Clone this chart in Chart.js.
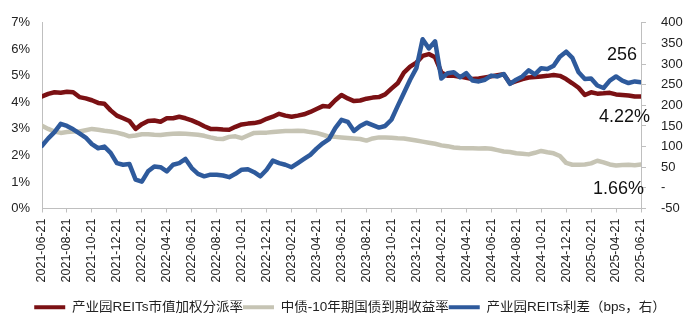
<!DOCTYPE html>
<html>
<head>
<meta charset="utf-8">
<script src="https://cdn.jsdelivr.net/npm/chart.js@4.4.1/dist/chart.umd.min.js"></script>
<style>
  html, body { margin: 0; padding: 0; background: #ffffff; }
  #wrap { width: 700px; height: 327px; position: relative; }
</style>
</head>
<body>
<div id="wrap"><canvas id="c" width="700" height="327"></canvas></div>
<script>
// X tick labels (every 2 months); data points are half-monthly from 2021-06-21 to 2025-06-21
const tickLabels = ['2021-06-21','2021-08-21','2021-10-21','2021-12-21','2022-02-21','2022-04-21','2022-06-21','2022-08-21','2022-10-21','2022-12-21','2023-02-21','2023-04-21','2023-06-21','2023-08-21','2023-10-21','2023-12-21','2024-02-21','2024-04-21','2024-06-21','2024-08-21','2024-10-21','2024-12-21','2025-02-21','2025-04-21','2025-06-21'];

const seriesNames = ['产业园REITs市值加权分派率', '中债-10年期国债到期收益率', '产业园REITs利差（bps，右）'];

// 产业园REITs市值加权分派率 (%)
const reitYield = [4.22,4.32,4.38,4.36,4.40,4.38,4.20,4.15,4.08,3.98,3.95,3.70,3.50,3.40,3.30,3.00,3.18,3.30,3.32,3.27,
  3.40,3.40,3.46,3.40,3.32,3.22,3.10,3.00,3.00,2.98,2.97,3.08,3.17,3.20,3.22,3.27,3.38,3.46,3.57,3.50,
  3.46,3.50,3.55,3.64,3.75,3.86,3.84,4.08,4.28,4.15,4.05,4.07,4.14,4.18,4.20,4.30,4.52,4.72,5.12,5.35,
  5.50,5.75,5.82,5.70,5.13,5.00,5.00,4.97,4.93,4.88,4.90,4.94,4.98,5.02,5.06,4.72,4.80,4.88,4.94,4.96,
  4.98,5.00,5.03,5.00,4.88,4.72,4.55,4.28,4.38,4.33,4.34,4.36,4.30,4.28,4.26,4.22,4.22];

// 中债-10年期国债到期收益率 (%)
const cgb10y = [3.12,3.00,2.90,2.85,2.88,2.90,2.90,2.95,3.00,2.97,2.93,2.90,2.86,2.80,2.72,2.75,2.80,2.80,2.78,2.77,
  2.80,2.82,2.83,2.82,2.80,2.78,2.74,2.68,2.63,2.62,2.70,2.72,2.65,2.75,2.85,2.86,2.86,2.88,2.90,2.92,
  2.92,2.93,2.92,2.88,2.85,2.78,2.71,2.70,2.68,2.66,2.64,2.62,2.56,2.64,2.68,2.68,2.67,2.65,2.64,2.60,
  2.56,2.52,2.48,2.44,2.38,2.35,2.30,2.28,2.27,2.27,2.26,2.27,2.25,2.20,2.15,2.13,2.08,2.06,2.04,2.10,
  2.17,2.12,2.08,1.98,1.72,1.65,1.65,1.66,1.70,1.80,1.74,1.66,1.62,1.64,1.65,1.63,1.66];

// 产业园REITs利差 (bps, right axis)
const spreadBps = [102,120,135,155,150,142,132,122,106,96,100,85,60,56,58,20,15,40,52,50,
  40,56,60,70,48,34,28,32,32,30,26,34,44,45,38,28,44,66,60,56,
  50,60,70,80,95,108,118,145,165,160,138,150,158,152,146,150,165,198,230,262,
  290,360,338,355,265,278,280,268,278,260,258,262,272,270,276,252,262,270,285,275,
  290,288,296,318,330,315,280,264,265,248,242,260,270,260,254,258,256];

// End-of-series value labels
const endLabels = ['256', '4.22%', '1.66%'];

const colors = ['#7B1114', '#C6C4B4', '#2E5A9C'];

const toXY = arr => arr.map((v, i) => ({ x: i, y: v }));

const FONT = '"Liberation Sans", Arial, "Noto Sans CJK SC", sans-serif';

const endLabelPlugin = {
  id: 'endLabels',
  afterDatasetsDraw(chart) {
    const { ctx, chartArea, scales } = chart;
    ctx.save();
    ctx.font = '18px ' + FONT;
    ctx.fillStyle = '#111';
    ctx.textBaseline = 'middle';
    ctx.textAlign = 'right';
    ctx.fillText(endLabels[0], chartArea.right - 4, scales.y1.getPixelForValue(323));
    ctx.textAlign = 'left';
    ctx.fillText(endLabels[1], chartArea.right - 42, scales.y.getPixelForValue(3.46));
    ctx.fillText(endLabels[2], chartArea.right - 48, scales.y.getPixelForValue(0.74));
    ctx.restore();
  }
};

new Chart(document.getElementById('c'), {
  type: 'line',
  data: {
    datasets: [
      { label: seriesNames[0], data: toXY(reitYield), yAxisID: 'y', borderColor: colors[0], backgroundColor: colors[0], order: 1 },
      { label: seriesNames[1], data: toXY(cgb10y), yAxisID: 'y', borderColor: colors[1], backgroundColor: colors[1], order: 2 },
      { label: seriesNames[2], data: toXY(spreadBps), yAxisID: 'y1', borderColor: colors[2], backgroundColor: colors[2], order: 0 }
    ]
  },
  options: {
    responsive: false,
    animation: false,
    devicePixelRatio: 1,
    layout: { padding: { top: 18, bottom: 3, left: 0, right: 0 } },
    elements: {
      line: { borderWidth: 4.5, tension: 0, borderJoinStyle: 'round', borderCapStyle: 'round' },
      point: { radius: 0, hoverRadius: 0 }
    },
    plugins: {
      tooltip: { enabled: false },
      legend: {
        position: 'bottom',
        labels: {
          boxWidth: 31,
          boxHeight: 4,
          padding: 0,
          color: '#222',
          font: { family: FONT, size: 13.5 },
          sort(a, b) { return a.datasetIndex - b.datasetIndex; },
          generateLabels(chart) {
            const items = Chart.defaults.plugins.legend.labels.generateLabels(chart);
            items.forEach(it => { it.lineWidth = 0; it.strokeStyle = 'rgba(0,0,0,0)'; });
            return items;
          }
        }
      }
    },
    scales: {
      x: {
        type: 'linear',
        min: 0,
        max: 96,
        offset: false,
        afterFit(scale) { scale.height = 92; },
        grid: { display: true, drawOnChartArea: false, drawTicks: true, tickLength: 4, color: '#BFBFBF' },
        border: { display: true, color: '#BFBFBF', width: 1 },
        ticks: {
          stepSize: 4,
          autoSkip: false,
          minRotation: 90,
          maxRotation: 90,
          padding: 6,
          color: '#222',
          font: { family: FONT, size: 12.5 },
          callback(v) { return tickLabels[v / 4]; }
        }
      },
      y: {
        position: 'left',
        min: 0,
        max: 7,
        afterFit(scale) { scale.width = 42; },
        grid: { display: false, drawTicks: false },
        border: { display: true, color: '#BFBFBF', width: 1 },
        ticks: {
          stepSize: 1,
          padding: 12,
          color: '#222',
          font: { family: FONT, size: 13 },
          callback(v) { return v + '%'; }
        }
      },
      y1: {
        position: 'right',
        min: -50,
        max: 400,
        afterFit(scale) { scale.width = 59; },
        grid: { display: true, drawOnChartArea: false, drawTicks: true, tickLength: 5, color: '#BFBFBF' },
        border: { display: true, color: '#BFBFBF', width: 1 },
        ticks: {
          stepSize: 50,
          padding: 15,
          color: '#222',
          font: { family: FONT, size: 13 },
          callback(v) { return v === 0 ? '-' : String(v); }
        }
      }
    }
  },
  plugins: [endLabelPlugin]
});
</script>
</body>
</html>
